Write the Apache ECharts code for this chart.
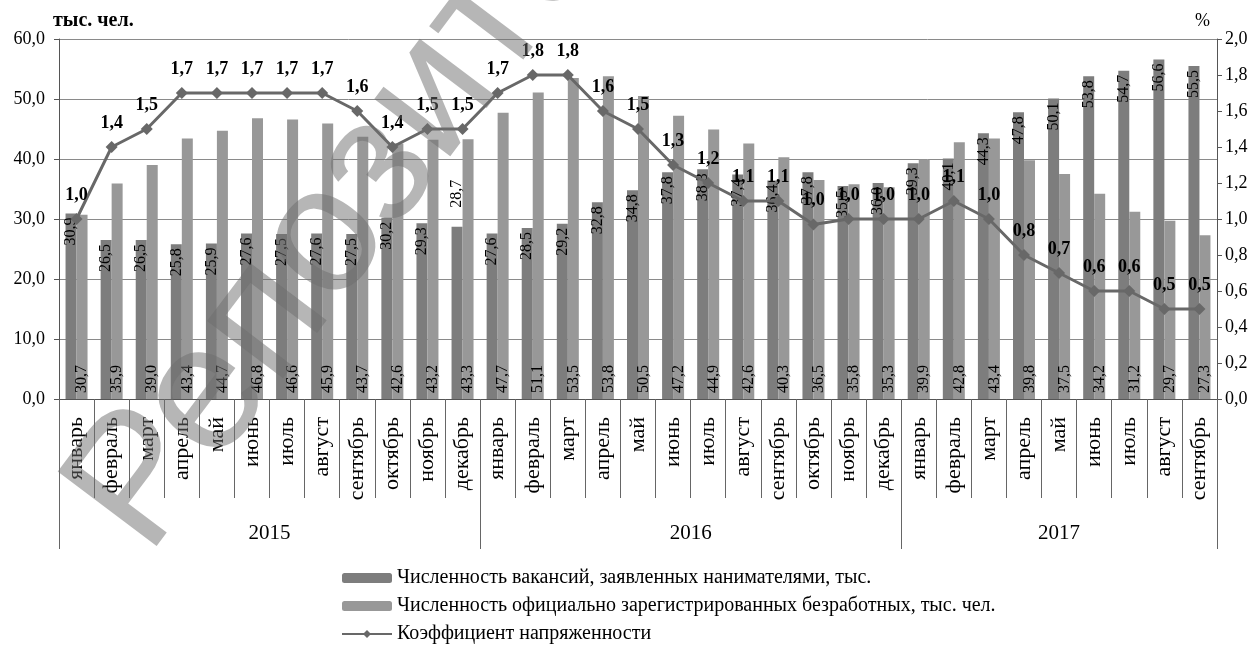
<!DOCTYPE html>
<html>
<head>
<meta charset="utf-8">
<script src="https://cdn.jsdelivr.net/npm/echarts@6/dist/echarts.min.js"></script>
<style>html,body{margin:0;padding:0;background:#fff}#c{width:1257px;height:661px}</style>
</head>
<body>
<div id="c"></div>
<script>
const months = ['январь','февраль','март','апрель','май','июнь','июль','август','сентябрь','октябрь','ноябрь','декабрь',
  'январь','февраль','март','апрель','май','июнь','июль','август','сентябрь','октябрь','ноябрь','декабрь',
  'январь','февраль','март','апрель','май','июнь','июль','август','сентябрь'];
const years = ['2015','2016','2017'];
const yearSpans = [12, 12, 9];
const vacancies = [30.9,26.5,26.5,25.8,25.9,27.6,27.5,27.6,27.5,30.2,29.3,28.7,
  27.6,28.5,29.2,32.8,34.8,37.8,38.3,37.4,36.4,37.8,35.5,36.0,
  39.3,40.1,44.3,47.8,50.1,53.8,54.7,56.6,55.5];
const unemployed = [30.7,35.9,39.0,43.4,44.7,46.8,46.6,45.9,43.7,42.6,43.2,43.3,
  47.7,51.1,53.5,53.8,50.5,47.2,44.9,42.6,40.3,36.5,35.8,35.3,
  39.9,42.8,43.4,39.8,37.5,34.2,31.2,29.7,27.3];
const tension = [1.0,1.4,1.5,1.7,1.7,1.7,1.7,1.7,1.6,1.4,1.5,1.5,
  1.7,1.8,1.8,1.6,1.5,1.3,1.2,1.1,1.1,0.97,1.0,1.0,
  1.0,1.1,1.0,0.8,0.7,0.6,0.6,0.5,0.5];
const leftTicks = {min:0, max:60, interval:10};
const rightTicks = {min:0, max:2, interval:0.2};
const seriesNames = ['Численность вакансий, заявленных нанимателями, тыс.',
  'Численность официально зарегистрированных безработных, тыс. чел.',
  'Коэффициент напряженности'];
const watermarkText = 'Репозиторий БГЭУ';

const fmt = v => Number(v).toFixed(1).replace('.', ',');
const serif = 'Liberation Serif, Times New Roman, serif';

// Year axis: half-step category axis so year labels sit between months
const yearAxisData = [];
const yearTickIdx = [0];
const yearLabelAt = {};
let acc = 0;
yearSpans.forEach((s, i) => { yearLabelAt[2 * acc + s] = years[i]; acc += s; yearTickIdx.push(2 * acc); });
for (let i = 0; i <= 2 * acc; i++) yearAxisData.push(yearLabelAt[i] || '');

// label placed above the bar for one point (as in the original figure)
const vacData = vacancies.map((v, i) => i === 11
  ? {value: v, label: {position: 'top', align: 'left', distance: 19}}
  : v);

const chart = echarts.init(document.getElementById('c'), null, {renderer: 'canvas'});
chart.setOption({
  animation: false,
  backgroundColor: '#fff',
  grid: {left: 59, right: 40, top: 39, bottom: 262, containLabel: false},
  legend: {
    orient: 'vertical', left: 336, top: 563, itemGap: 8,
    itemWidth: 50, itemHeight: 10,
    textStyle: {fontFamily: serif, fontSize: 20, color: '#000'},
    data: seriesNames
  },
  xAxis: [{
    type: 'category', data: months, boundaryGap: true,
    axisLine: {lineStyle: {color: '#555', width: 1}},
    axisTick: {show: true, length: 99, interval: 0, lineStyle: {color: '#666'}},
    axisLabel: {interval: 0, rotate: 90, margin: 18, fontFamily: serif, fontSize: 22, color: '#000'},
    splitLine: {show: false}
  }, {
    type: 'category', data: yearAxisData, boundaryGap: false, position: 'bottom',
    axisLine: {show: false},
    axisTick: {show: true, length: 150, interval: (i) => yearTickIdx.includes(i), lineStyle: {color: '#666'}},
    axisLabel: {interval: (i) => !!yearLabelAt[i], margin: 124, fontFamily: serif, fontSize: 21, color: '#000'},
    splitLine: {show: false}
  }],
  yAxis: [{
    type: 'value', min: leftTicks.min, max: leftTicks.max, interval: leftTicks.interval, position: 'left',
    name: 'тыс. чел.', nameLocation: 'end', nameGap: 8,
    nameTextStyle: {fontFamily: serif, fontSize: 20, fontWeight: 'bold', color: '#000', align: 'left', padding: [0,0,0,-6]},
    axisLine: {show: true, lineStyle: {color: '#555'}},
    axisTick: {show: true, length: 5, lineStyle: {color: '#555'}},
    axisLabel: {formatter: fmt, margin: 14, fontFamily: serif, fontSize: 18, color: '#000'},
    splitLine: {show: true, lineStyle: {color: '#8a8a8a', width: 1}}
  }, {
    type: 'value', min: rightTicks.min, max: rightTicks.max, interval: rightTicks.interval, position: 'right',
    name: '%', nameLocation: 'end', nameGap: 9,
    nameTextStyle: {fontFamily: serif, fontSize: 18, color: '#000', align: 'right', padding: [0,7,0,0]},
    axisLine: {show: true, lineStyle: {color: '#555'}},
    axisTick: {show: true, length: 5, lineStyle: {color: '#555'}},
    axisLabel: {formatter: fmt, margin: 8, fontFamily: serif, fontSize: 18, color: '#000'},
    splitLine: {show: false}
  }],
  series: [{
    name: seriesNames[0], type: 'bar', data: vacData, barWidth: 11, barGap: '0%',
    itemStyle: {color: '#7d7d7d'},
    label: {show: true, position: 'insideTop', rotate: 90, align: 'right', verticalAlign: 'middle', distance: 4,
      formatter: p => fmt(p.value), fontFamily: serif, fontSize: 16, color: '#000'}
  }, {
    name: seriesNames[1], type: 'bar', data: unemployed, barWidth: 11,
    itemStyle: {color: '#989898'},
    label: {show: true, position: 'insideBottom', rotate: 90, align: 'left', verticalAlign: 'middle', distance: 6,
      formatter: p => fmt(p.value), fontFamily: serif, fontSize: 16, color: '#000'}
  }, {
    name: seriesNames[2], type: 'line', yAxisIndex: 1, data: tension,
    symbol: 'diamond', symbolSize: 12,
    lineStyle: {color: '#686868', width: 3},
    itemStyle: {color: '#686868'},
    label: {show: true, position: 'top', distance: 9, formatter: p => fmt(p.value),
      fontFamily: serif, fontSize: 18, fontWeight: 'bold', color: '#000'},
    z: 5
  }],
  graphic: [{
    type: 'text', z: 100, silent: true,
    x: 108, y: 528, rotation: 53 * Math.PI / 180,
    style: {text: watermarkText, font: '180px Liberation Sans', fill: 'rgba(110,110,110,0.5)',
      verticalAlign: 'middle', align: 'left'}
  }]
});
</script>
</body>
</html>
